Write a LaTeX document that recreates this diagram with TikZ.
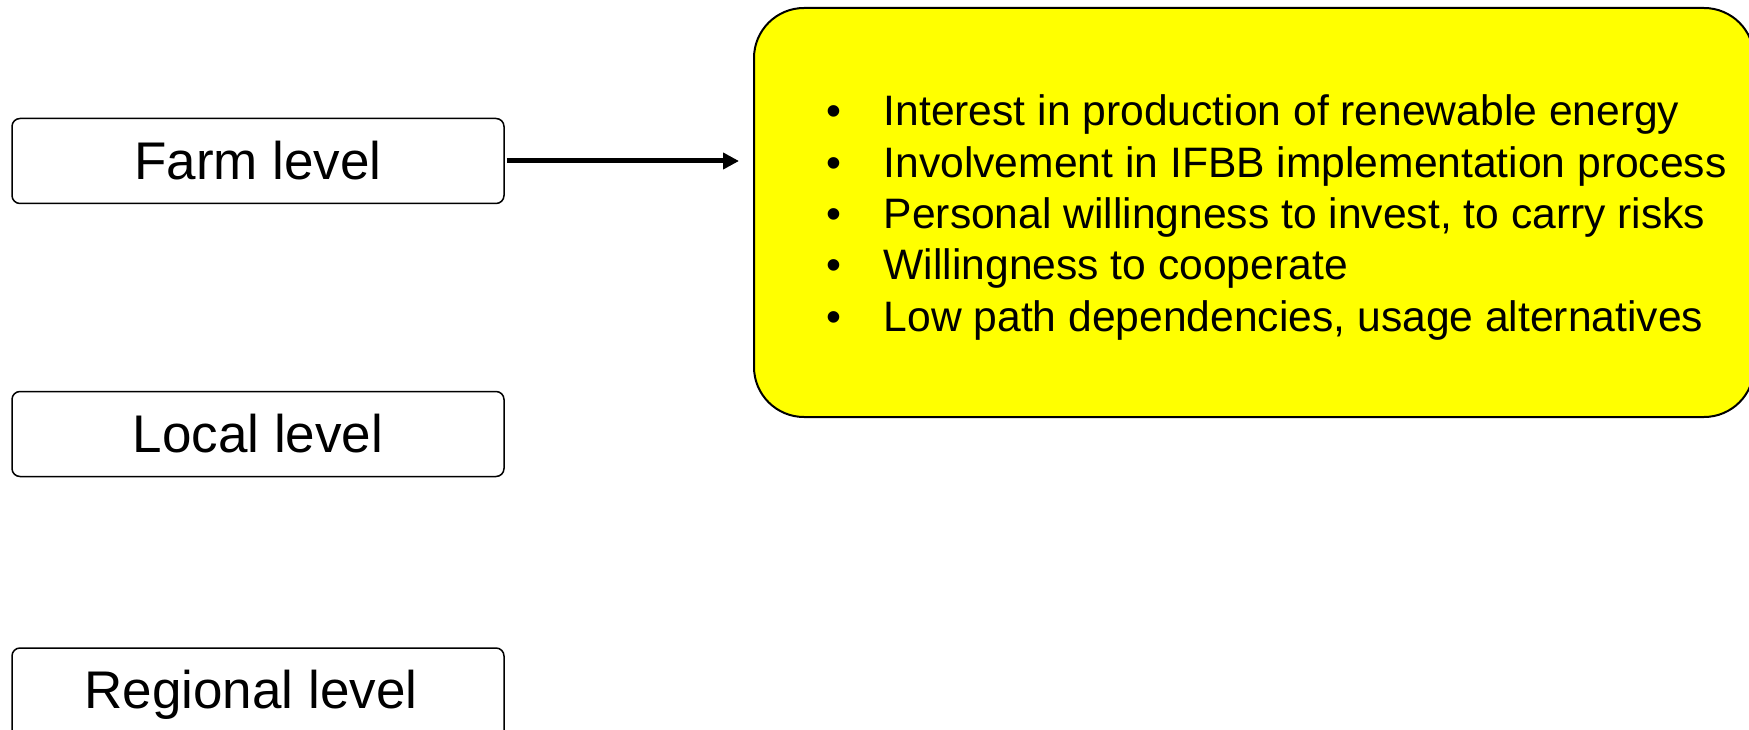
\documentclass[tikz,border=0pt]{standalone}
\usepackage{fontspec}
\setmainfont{Liberation Sans}
\usetikzlibrary{arrows.meta}

\definecolor{boxyellow}{RGB}{255,255,0}
\tikzset{every picture/.style={line width=1.5pt}}
\tikzset{
  levelbox/.style={draw, rounded corners=8pt, minimum width=492pt, minimum height=85pt,
    inner sep=0pt, font=\fontsize{53}{60}\selectfont},
  factorbox/.style={draw, line width=2pt, rounded corners=50pt, fill=boxyellow,
    minimum width=1000pt, minimum height=409pt, inner sep=0pt},
  factor/.style={anchor=base west, inner sep=0pt, font=\fontsize{42.6}{51.3}\selectfont},
  levelarrow/.style={line width=5pt, -{Triangle[length=16pt,width=16pt]}, shorten <=2pt}
}

\begin{document}
\begin{tikzpicture}[x=1pt,y=1pt,yscale=-1,xscale=1]
	\useasboundingbox (0,0) rectangle (1749,730);

	% level boxes
	\node [levelbox] (farm) at (258,161) {Farm level};
	\node [levelbox] (local) at (258,434) {Local level};
	\node [levelbox, minimum height=94pt] (regional) at (258,695) {\hspace*{-14pt}Regional level};

	% yellow box with the farm level factors
	\node [factorbox] (factors) at (1254,212.5) {};
	\foreach \txt [count=\k] in {Interest in production of renewable energy,
	    Involvement in IFBB implementation process,
	    {Personal willingness to invest, to carry risks},
	    Willingness to cooperate,
	    {Low path dependencies, usage alternatives}}
	  \node [factor] (item\k) at (825.5,{126+51.3*(\k-1)}) {\makebox[57.5pt][l]{\textbullet}\txt};

	% arrow
	\coordinate (tip) at ([xshift=-14pt]factors.west);
	\draw [levelarrow] (farm.east) -- (farm.east -| tip);

\end{tikzpicture}
\end{document}
